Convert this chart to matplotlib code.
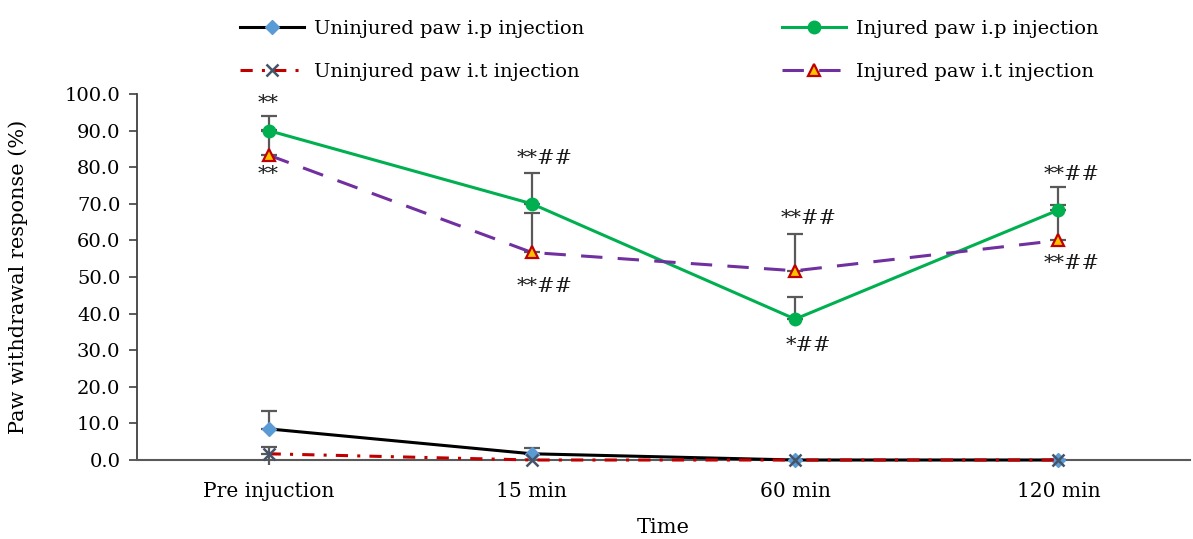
import matplotlib
matplotlib.use("Agg")
import matplotlib.pyplot as plt
import numpy as np

plt.rcParams['font.family'] = ['DejaVu Serif']

categories = ["Pre injuction", "15 min", "60 min", "120 min"]
unip = [8.5, 1.7, 0.0, 0.0]
unip_err = [5.0, 1.6, 0.0, 0.0]
injip = [90.0, 70.0, 38.5, 68.3]
injip_err = [4.0, 8.4, 6.1, 6.3]
unit = [1.7, 0.0, 0.0, 0.0]
unit_err = [1.9, 0.0, 0.0, 0.0]
unit_err_low = [3.2, 0.0, 0.0, 0.0]
injit = [83.3, 56.7, 51.7, 60.0]
injit_err = [7.0, 10.9, 10.0, 9.7]

ann_text = ["**", "**", "**##", "**##", "**##", "*##", "**##", "**##"]
ann_x = [0, 0, 1, 1, 2, 2, 3, 3]
ann_y = [97.3, 77.9, 82.5, 47.5, 66.1, 31.4, 78.1, 53.8]

W, H = 1193, 539
fig = plt.figure(figsize=(W/100, H/100), dpi=100)
ax = fig.add_axes([137/W, 1-460/H, (1190-137)/W, (460-94)/H])
x = np.arange(len(categories))

ecol = '#595959'
def eb(vals, err):
    ax.errorbar(x, vals, yerr=[np.zeros(len(err)), err], fmt='none', ecolor=ecol,
                elinewidth=1.6, capsize=6, capthick=1.6, zorder=2)

eb(unip, unip_err)
eb(injip, injip_err)
eb(injit, injit_err)
eb(unit, unit_err)
ax.errorbar(x, unit, yerr=[unit_err_low, np.zeros(4)], fmt='none', ecolor=ecol,
            elinewidth=1.6, capsize=0, zorder=2, clip_on=False)

l1, = ax.plot(x, unip, color='black', lw=2.2, marker='D', ms=7, mfc='#5B9BD5', mec='#5B9BD5',
              label='Uninjured paw i.p injection', zorder=3, clip_on=False)
l3, = ax.plot(x, injip, color='#00B050', lw=2.2, marker='o', ms=9, mfc='#00B050', mec='#00B050',
              label='Injured paw i.p injection', zorder=4)
l2, = ax.plot(x, unit, color='#C00000', lw=2.2, ls=(0, (4, 3, 1, 3)), marker='x', ms=9, mew=1.8,
              mec='#44546A', label='Uninjured paw i.t injection', zorder=5, clip_on=False)
l4, = ax.plot(x, injit, color='#7030A0', lw=2.2, ls=(0, (7, 5)), marker='^', ms=9, mfc='#FFC000',
              mec='#C00000', mew=1.6, label='Injured paw i.t injection', zorder=4)

for t, xi, yi in zip(ann_text, ann_x, ann_y):
    dx = 0.0 if len(t) <= 2 else 0.05
    ax.text(xi + dx, yi, t, ha='center', va='center', fontsize=15, color='#1a1a1a')

ax.set_xlim(-0.5, 3.5)
ax.set_ylim(0, 100)
ax.set_yticks(np.arange(0, 101, 10))
ax.set_yticklabels([f"{v:.1f}" for v in np.arange(0, 101, 10)], fontsize=14)
ax.set_xticks(x)
ax.set_xticklabels(categories, fontsize=14.5)
ax.tick_params(axis='x', length=0, pad=16)
ax.tick_params(axis='y', length=6, width=1.2, color='#404040', direction='out', pad=6)
for s in ['top', 'right']:
    ax.spines[s].set_visible(False)
ax.spines['left'].set_color('#404040')
ax.spines['left'].set_linewidth(1.3)
ax.spines['bottom'].set_color('#595959')
ax.spines['bottom'].set_linewidth(1.5)
ax.set_xlabel('Time', fontsize=15, labelpad=12)
ax.set_ylabel('Paw withdrawal response (%)', fontsize=15, labelpad=26)

leg = fig.legend(handles=[l1, l2, l3, l4], ncol=2, loc='upper center', bbox_to_anchor=(0.561, 0.995),
                 frameon=False, fontsize=14, columnspacing=10.2, handlelength=3.3, labelspacing=1.25,
                 handletextpad=0.5)

fig.savefig('out.png', dpi=100)
